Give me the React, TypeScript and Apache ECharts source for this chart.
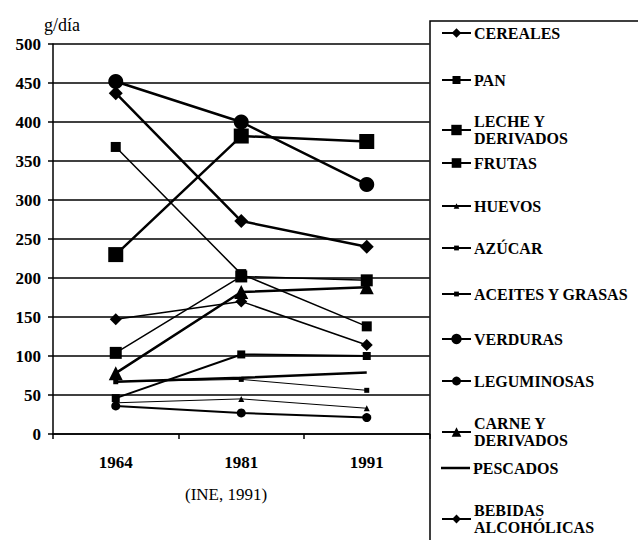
import React, { useEffect, useRef } from "react";
import * as echarts from "echarts";

const years = ["1964", "1981", "1991"];
const yTicks = { min: 0, max: 500, interval: 50 };

const cereales = [437, 273, 240];
const pan = [368, 205, 138];
const leche = [230, 382, 375];
const frutas = [104, 202, 197];
const huevos = [40, 45, 33];
const azucar = [67, 70, 56];
const aceites = [46, 102, 100];
const verduras = [452, 400, 320];
const leguminosas = [36, 27, 21];
const carne = [78, 182, 188];
const pescados = [67, 72, 79];
const bebidas = [147, 170, 114];

const FONT = "'Liberation Serif', 'Times New Roman', serif";

type S = {
  name: string;
  label: string;
  data: number[];
  symbol: string;
  size: number;
  width: number;
  legendY: number;
  legendH: number;
};

const seriesDefs: S[] = [
  { name: "CEREALES", label: "CEREALES", data: cereales, symbol: "diamond", size: 14, width: 2.5, legendY: 33, legendH: 12 },
  { name: "PAN", label: "PAN", data: pan, symbol: "rect", size: 10, width: 1.5, legendY: 80, legendH: 10 },
  { name: "LECHE Y DERIVADOS", label: "LECHE Y\nDERIVADOS", data: leche, symbol: "rect", size: 15, width: 2.5, legendY: 130, legendH: 13 },
  { name: "FRUTAS", label: "FRUTAS", data: frutas, symbol: "rect", size: 12, width: 1.5, legendY: 163, legendH: 12 },
  { name: "HUEVOS", label: "HUEVOS", data: huevos, symbol: "triangle", size: 6, width: 1, legendY: 206, legendH: 7 },
  { name: "AZÚCAR", label: "AZÚCAR", data: azucar, symbol: "rect", size: 5, width: 1, legendY: 248, legendH: 6 },
  { name: "ACEITES Y GRASAS", label: "ACEITES Y GRASAS", data: aceites, symbol: "rect", size: 8, width: 2, legendY: 294, legendH: 6 },
  { name: "VERDURAS", label: "VERDURAS", data: verduras, symbol: "circle", size: 15, width: 2.5, legendY: 339, legendH: 13 },
  { name: "LEGUMINOSAS", label: "LEGUMINOSAS", data: leguminosas, symbol: "circle", size: 9, width: 2, legendY: 381, legendH: 11 },
  { name: "CARNE Y DERIVADOS", label: "CARNE Y\nDERIVADOS", data: carne, symbol: "triangle", size: 14, width: 2.5, legendY: 432, legendH: 12 },
  { name: "PESCADOS", label: "PESCADOS", data: pescados, symbol: "none", size: 0, width: 2.5, legendY: 468, legendH: 2.5 },
  { name: "BEBIDAS ALCOHÓLICAS", label: "BEBIDAS\nALCOHÓLICAS", data: bebidas, symbol: "diamond", size: 12, width: 1.5, legendY: 519, legendH: 11 },
];

export default function App() {
  const ref = useRef<HTMLDivElement>(null);
  useEffect(() => {
    if (!ref.current) return;
    const chart = echarts.init(ref.current, undefined, { renderer: "svg" });
    const legends = seriesDefs.map((s) => {
      const multi = s.label.includes("\n");
      const boxH = multi ? 34 : 17;
      return {
        data: s.symbol === "none" ? [{ name: s.name, icon: "rect" }] : [s.name],
        left: 441,
        top: s.legendY - boxH / 2,
        itemWidth: 29,
        itemHeight: s.legendH,
        itemGap: 0,
        padding: 0,
        selectedMode: false,
        formatter: () => s.label,
        textStyle: {
          fontFamily: FONT,
          fontWeight: "bold",
          fontSize: 16,
          color: "#000",
          lineHeight: 17,
          padding: [0, 0, 0, -2],
        },
      };
    });
    chart.setOption({
      animation: false,
      backgroundColor: "#fff",
      textStyle: { fontFamily: FONT },
      grid: { left: 53, right: 208.5, top: 44, bottom: 106 },
      legend: legends,
      xAxis: {
        type: "category",
        data: years,
        boundaryGap: true,
        axisLine: { show: true, lineStyle: { color: "#000", width: 1.5 } },
        axisTick: { show: true, length: 5, lineStyle: { color: "#000", width: 1.5 } },
        axisLabel: { color: "#000", fontFamily: FONT, fontWeight: "bold", fontSize: 17, margin: 20 },
        splitLine: { show: false },
      },
      yAxis: {
        type: "value",
        min: yTicks.min,
        max: yTicks.max,
        interval: yTicks.interval,
        axisLine: { show: true, lineStyle: { color: "#000", width: 1.5 } },
        axisTick: { show: true, length: 5, lineStyle: { color: "#000", width: 1.5 } },
        axisLabel: { color: "#000", fontFamily: FONT, fontWeight: "bold", fontSize: 17, margin: 12 },
        splitLine: { show: true, lineStyle: { color: "#000", width: 1.5 } },
      },
      graphic: [
        {
          type: "rect",
          shape: { x: 430, y: 21, width: 220, height: 540 },
          style: { fill: "none", stroke: "#000", lineWidth: 1.5 },
          silent: true,
        },
        {
          type: "text",
          left: 44,
          top: 16,
          style: { text: "g/día", font: "18px 'Liberation Serif', serif", fill: "#000" },
        },
        {
          type: "text",
          left: 185,
          top: 486,
          style: { text: "(INE, 1991)", font: "17px 'Liberation Serif', serif", fill: "#000" },
        },
      ],
      series: seriesDefs.map((s) => ({
        name: s.name,
        type: "line",
        data: s.data,
        symbol: s.symbol,
        symbolSize: s.size,
        showSymbol: s.symbol !== "none",
        lineStyle: { color: "#000", width: s.width },
        itemStyle: { color: "#000", borderWidth: 0 },
        emphasis: { disabled: true },
      })),
    });
    return () => chart.dispose();
  }, []);
  return (
    <div
      ref={ref}
      style={{ position: "absolute", left: 0, top: 0, width: 638, height: 540 }}
    />
  );
}
